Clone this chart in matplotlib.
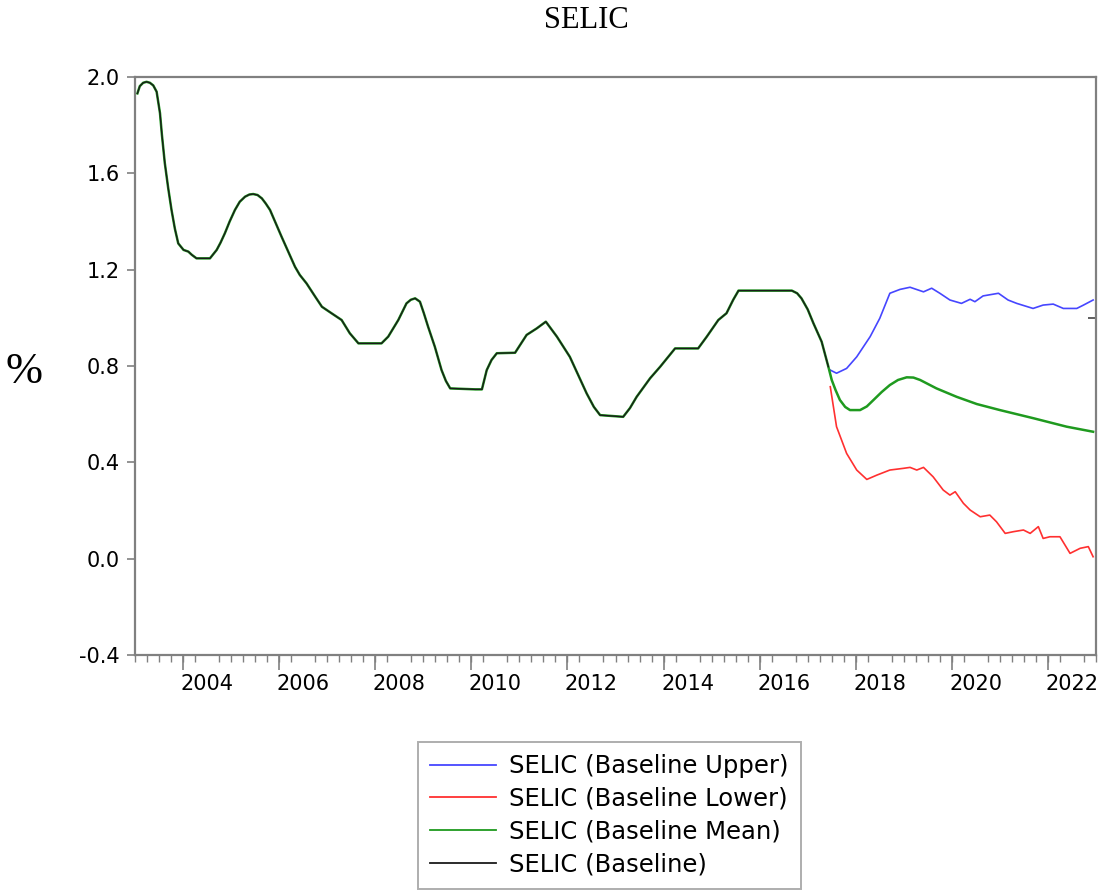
import matplotlib
matplotlib.use("Agg")
import matplotlib.pyplot as plt
import numpy as np

# ---------------- data (decimal year, value) ----------------
hist_t = [2003.05, 2003.10, 2003.17, 2003.24, 2003.31, 2003.38, 2003.45, 2003.52, 2003.56, 2003.62,
          2003.69, 2003.76, 2003.83, 2003.90, 2004.01, 2004.11, 2004.18, 2004.28, 2004.56, 2004.70,
          2004.78, 2004.87, 2004.97, 2005.08, 2005.18, 2005.29, 2005.38, 2005.46, 2005.55, 2005.64,
          2005.72, 2005.81, 2006.05, 2006.33, 2006.43, 2006.57, 2006.75, 2006.89, 2007.09, 2007.30,
          2007.47, 2007.65, 2008.13, 2008.27, 2008.48, 2008.65, 2008.74, 2008.83, 2008.93, 2009.01,
          2009.10, 2009.24, 2009.38, 2009.47, 2009.56, 2010.08, 2010.22, 2010.32, 2010.42, 2010.53,
          2010.91, 2011.15, 2011.36, 2011.55, 2011.78, 2012.05, 2012.40, 2012.55, 2012.68, 2013.16,
          2013.30, 2013.44, 2013.72, 2013.93, 2014.24, 2014.72, 2014.90, 2015.14, 2015.31, 2015.45,
          2015.56, 2016.67, 2016.78, 2016.87, 2017.00, 2017.12, 2017.29, 2017.43]
hist_v = [1.932, 1.962, 1.976, 1.980, 1.976, 1.965, 1.939, 1.850, 1.760, 1.643,
          1.540, 1.448, 1.370, 1.309, 1.282, 1.275, 1.262, 1.247, 1.247, 1.282,
          1.312, 1.351, 1.400, 1.448, 1.482, 1.503, 1.512, 1.514, 1.510, 1.496,
          1.475, 1.448, 1.337, 1.212, 1.178, 1.143, 1.088, 1.046, 1.019, 0.991,
          0.936, 0.894, 0.894, 0.922, 0.991, 1.060, 1.075, 1.081, 1.067, 1.020,
          0.963, 0.880, 0.783, 0.738, 0.707, 0.703, 0.703, 0.783, 0.825, 0.853,
          0.855, 0.929, 0.956, 0.984, 0.922, 0.838, 0.686, 0.630, 0.596, 0.589,
          0.625, 0.672, 0.749, 0.797, 0.873, 0.873, 0.922, 0.991, 1.019, 1.075,
          1.113, 1.113, 1.102, 1.081, 1.035, 0.977, 0.901, 0.797]

mean_t = [2017.50, 2017.58, 2017.67, 2017.78, 2017.88, 2018.09, 2018.23, 2018.37, 2018.54, 2018.71,
          2018.88, 2019.06, 2019.20, 2019.34, 2019.68, 2020.10, 2020.52, 2021.00, 2021.70, 2022.39,
          2022.94]
mean_v = [0.742, 0.700, 0.659, 0.630, 0.617, 0.617, 0.632, 0.659, 0.692, 0.721,
          0.742, 0.753, 0.752, 0.742, 0.707, 0.672, 0.642, 0.617, 0.583, 0.548,
          0.527]

upper_t = [2017.47, 2017.60, 2017.81, 2018.02, 2018.30, 2018.50, 2018.71, 2018.92, 2019.13, 2019.41,
           2019.58, 2019.75, 2019.96, 2020.20, 2020.38, 2020.48, 2020.65, 2020.97, 2021.17, 2021.35,
           2021.69, 2021.90, 2022.11, 2022.32, 2022.60, 2022.74, 2022.94]
upper_v = [0.783, 0.770, 0.790, 0.838, 0.922, 0.998, 1.102, 1.118, 1.127, 1.108,
           1.123, 1.102, 1.074, 1.060, 1.077, 1.067, 1.091, 1.102, 1.074, 1.060,
           1.039, 1.053, 1.057, 1.039, 1.039, 1.053, 1.074]

lower_t = [2017.47, 2017.60, 2017.81, 2018.02, 2018.23, 2018.44, 2018.71, 2018.99, 2019.13, 2019.27,
           2019.41, 2019.61, 2019.82, 2019.96, 2020.07, 2020.24, 2020.38, 2020.59, 2020.79, 2020.93,
           2021.11, 2021.28, 2021.49, 2021.63, 2021.80, 2021.90, 2022.04, 2022.25, 2022.46, 2022.67,
           2022.84, 2022.94]
lower_v = [0.714, 0.548, 0.437, 0.368, 0.329, 0.347, 0.368, 0.375, 0.379, 0.368,
           0.379, 0.340, 0.285, 0.264, 0.278, 0.230, 0.202, 0.174, 0.181, 0.153,
           0.105, 0.112, 0.119, 0.105, 0.133, 0.084, 0.091, 0.091, 0.022, 0.043,
           0.050, 0.008]

y_ticks = [-0.4, 0.0, 0.4, 0.8, 1.2, 1.6, 2.0]
y_tick_labels = ["-0.4", "0.0", "0.4", "0.8", "1.2", "1.6", "2.0"]
x_label_years = [2004, 2006, 2008, 2010, 2012, 2014, 2016, 2018, 2020, 2022]

labels = ["SELIC (Baseline Upper)", "SELIC (Baseline Lower)",
          "SELIC (Baseline Mean)", "SELIC (Baseline)"]
colors = ["#4646ff", "#ff3030", "#1f9a1f", "#1a1a1a"]

# ---------------- figure ----------------
W, H = 1104, 891
fig = plt.figure(figsize=(W / 100, H / 100), dpi=100)
ax = fig.add_axes([135 / W, 1 - 655 / H, (1096 - 135) / W, (655 - 77) / H])

mean_full_t = hist_t + mean_t
mean_full_v = hist_v + mean_v

l_up, = ax.plot(upper_t, upper_v, color=colors[0], lw=1.2)
l_lo, = ax.plot(lower_t, lower_v, color=colors[1], lw=1.2)
l_me, = ax.plot(mean_full_t, mean_full_v, color=colors[2], lw=1.8)
l_bl, = ax.plot(hist_t, hist_v, color=colors[3], lw=1.0)

ax.set_xlim(2003.0, 2023.0)
ax.set_ylim(-0.4, 2.0)

spine_col = "#808080"
for s in ax.spines.values():
    s.set_color(spine_col)
    s.set_linewidth(1.6)

tick_font = dict(family="DejaVu Sans", size=15)
ax.set_yticks(y_ticks)
ax.set_yticklabels(y_tick_labels, fontdict=tick_font)
ax.tick_params(axis="y", direction="out", length=6, width=1.2, color=spine_col, pad=5)

# x labels centred in their year, quarterly minor ticks
ax.set_xticks([y + 0.5 for y in x_label_years])
ax.set_xticklabels([str(y) for y in x_label_years], fontdict=tick_font)
ax.set_xticks(np.arange(2003.0, 2023.01, 0.25), minor=True)
ax.tick_params(axis="x", which="major", length=0, pad=14)
ax.tick_params(axis="x", which="minor", direction="out", length=5, width=1.0, color=spine_col)

sec = ax.secondary_xaxis("bottom")
sec.set_xticks(x_label_years)
sec.set_xticklabels([])
sec.tick_params(axis="x", direction="out", length=11, width=1.2, color=spine_col)
sec.spines["bottom"].set_visible(False)

secy = ax.secondary_yaxis("right")
secy.set_yticks([1.0])
secy.set_yticklabels([])
secy.tick_params(axis="y", direction="in", length=6, width=1.2, color="#444444")
secy.spines["right"].set_visible(False)

fig.text(586 / W, 1 - 20 / H, "SELIC", ha="center", va="center",
         family="Liberation Serif", fontsize=22)
fig.text(24 / W, 1 - 372 / H, "%", ha="center", va="center",
         family="Liberation Serif", fontsize=32)

leg = fig.legend([l_up, l_lo, l_me, l_bl], labels, loc="upper left",
                 bbox_to_anchor=(418 / W, 1 - 742 / H), borderaxespad=0,
                 prop=dict(family="DejaVu Sans", size=17.5), frameon=True, fancybox=False,
                 edgecolor="#9a9a9a", handlelength=2.7, handletextpad=0.55,
                 labelspacing=0.36, borderpad=0.5)
leg.get_frame().set_linewidth(1.4)
for h in leg.get_lines():
    h.set_linewidth(1.3)

fig.savefig("out.png", dpi=100)
